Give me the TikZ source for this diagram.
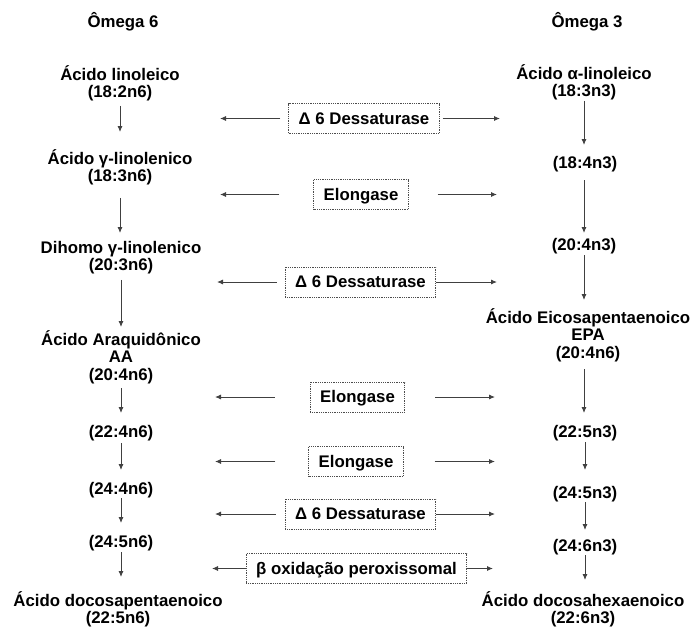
\documentclass[tikz,border=0pt]{standalone}
\usepackage{fontspec}
\setmainfont{Liberation Sans}
\usetikzlibrary{arrows.meta}
\newcommand\mytop{\rule{0pt}{15pt}}
\newcommand\mybot{\rule[-4pt]{0pt}{4pt}}
\begin{document}
\begin{tikzpicture}[x=1pt,y=-1pt,
  every node/.style={font=\fontsize{16.8}{17.5}\selectfont\bfseries},
  col/.style={align=center, inner sep=0pt, anchor=north},
  enz/.style={draw=black!70, densely dotted, line width=0.8pt, inner xsep=10pt, inner ysep=0pt,
              text height=11.5pt, text depth=0pt, minimum height=30pt},
  arr/.style={draw=black!75, line width=0.9pt, -{Latex[length=6pt,width=5pt]}}]
\useasboundingbox (0,0) rectangle (694,630);

% headers
\node[anchor=base] (h6) at (123,27) {Ômega 6};
\node[anchor=base] (h3) at (587,27) {Ômega 3};

% omega 6 column
\node[col] (L1) at (120,65)  {\mytop Ácido linoleico\\(18:2n6)\mybot};
\node[col] (L2) at (120,149) {\mytop Ácido γ-linolenico\\(18:3n6)\mybot};
\node[col] (L3) at (121,238) {\mytop Dihomo γ-linolenico\\(20:3n6)\mybot};
\node[col] (L4) at (121,330) {\mytop Ácido Araquidônico\\AA\\(20:4n6)\mybot};
\node[col] (L5) at (121,422) {\mytop (22:4n6)\mybot};
\node[col] (L6) at (121,479) {\mytop (24:4n6)\mybot};
\node[col] (L7) at (121,532) {\mytop (24:5n6)\mybot};
\node[col] (L8) at (118,591) {\mytop Ácido docosapentaenoico\\(22:5n6)\mybot};

% omega 3 column
\node[col] (R1) at (584,64)  {\mytop Ácido α-linoleico\\(18:3n3)\mybot};
\node[col] (R2) at (585,153) {\mytop (18:4n3)\mybot};
\node[col] (R3) at (584,235) {\mytop (20:4n3)\mybot};
\node[col] (R4) at (588,308) {\mytop Ácido Eicosapentaenoico\\EPA\\(20:4n6)\mybot};
\node[col] (R5) at (585,422) {\mytop (22:5n3)\mybot};
\node[col] (R6) at (585,483) {\mytop (24:5n3)\mybot};
\node[col] (R7) at (585,536) {\mytop (24:6n3)\mybot};
\node[col] (R8) at (583,591) {\mytop Ácido docosahexaenoico\\(22:6n3)\mybot};

% vertical arrows, omega 6
\draw[arr, shorten <=4pt, shorten >=17pt] (L1.south) -- (L1.south |- L2.north);
\draw[arr, shorten <=12pt, shorten >=5pt] (L2.south) -- (L2.south |- L3.north);
\draw[arr, shorten <=5pt, shorten >=3pt] (L3.south) -- (L3.south |- L4.north);
\draw[arr, shorten <=4pt, shorten >=9pt] (L4.south) -- (L4.south |- L5.north);
\draw[arr, shorten <=2pt, shorten >=9pt] (L5.south) -- (L5.south |- L6.north);
\draw[arr, shorten <=0pt, shorten >=9pt] (L6.south) -- (L6.south |- L7.north);
\draw[arr, shorten <=1pt, shorten >=14pt] (L7.south) -- (L7.south |- L8.north);

% vertical arrows, omega 3
\draw[arr, shorten <=0pt, shorten >=8pt] (R1.south) -- (R1.south |- R2.north);
\draw[arr, shorten <=8pt, shorten >=2pt] (R2.south -| R1.south) -- (R1.south |- R3.north);
\draw[arr, shorten <=1pt, shorten >=8pt] (R3.south) -- (R3.south |- R4.north);
\draw[arr, shorten <=7pt, shorten >=9pt] (R4.south -| R3.south) -- (R3.south |- R5.north);
\draw[arr, shorten <=1pt, shorten >=13pt] (R5.south) -- (R5.south |- R6.north);
\draw[arr, shorten <=0pt, shorten >=6pt] (R6.south) -- (R6.south |- R7.north);
\draw[arr, shorten <=0pt, shorten >=11pt] (R7.south) -- (R7.south |- R8.north);

% enzyme boxes
\node[enz] (B1) at (364,118.5) {Δ 6 Dessaturase};
\node[enz] (B2) at (361,194.5) {Elongase};
\node[enz] (B3) at (360.5,282) {Δ 6 Dessaturase};
\node[enz] (B4) at (357.5,397) {Elongase};
\node[enz] (B5) at (356,461.5) {Elongase};
\node[enz] (B6) at (360.5,514) {Δ 6 Dessaturase};
\node[enz] (B7) at (356.5,568.5) {β oxidação peroxissomal};

% free ends of horizontal arrows
\coordinate (B1l) at (220,118.5); \coordinate (B1r) at (500,118.5);
\coordinate (B2l) at (220,194.5); \coordinate (B2r) at (497,194.5);
\coordinate (B3l) at (217,282);   \coordinate (B3r) at (497,282);
\coordinate (B4l) at (215,397);   \coordinate (B4r) at (495,397);
\coordinate (B5l) at (215,461.5); \coordinate (B5r) at (495,461.5);
\coordinate (B6l) at (215,514);   \coordinate (B6r) at (495,514);
\coordinate (B7l) at (212,568.5); \coordinate (B7r) at (493,568.5);

\draw[arr, shorten <=8pt]  (B1.west) -- (B1l);
\draw[arr, shorten <=3pt]  (B1.east) -- (B1r);
\draw[arr, shorten <=34pt] (B2.west) -- (B2l);
\draw[arr, shorten <=29pt] (B2.east) -- (B2r);
\draw[arr, shorten <=8pt]  (B3.west) -- (B3l);
\draw[arr]                 (B3.east) -- (B3r);
\draw[arr, shorten <=35pt] (B4.west) -- (B4l);
\draw[arr, shorten <=30pt] (B4.east) -- (B4r);
\draw[arr, shorten <=33pt] (B5.west) -- (B5l);
\draw[arr, shorten <=31pt] (B5.east) -- (B5r);
\draw[arr, shorten <=9pt]  (B6.west) -- (B6l);
\draw[arr]                 (B6.east) -- (B6r);
\draw[arr]                 (B7.west) -- (B7l);
\draw[arr]                 (B7.east) -- (B7r);
\end{tikzpicture}
\end{document}
